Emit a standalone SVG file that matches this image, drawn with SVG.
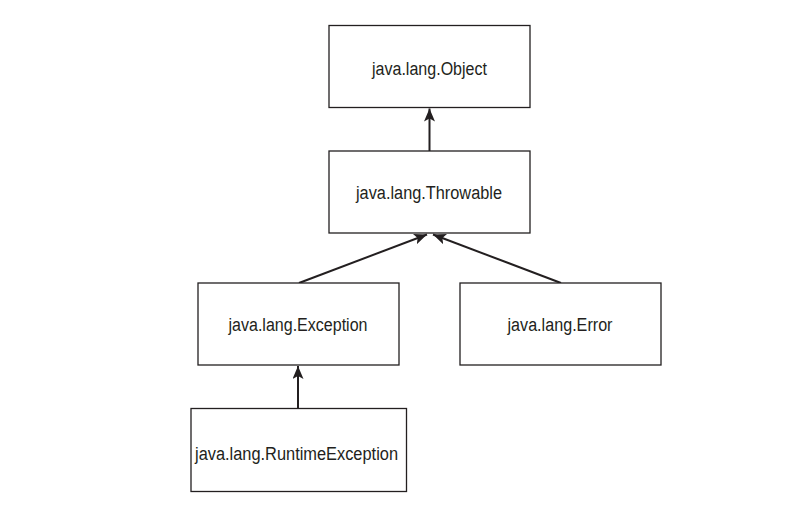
<svg xmlns="http://www.w3.org/2000/svg" width="785" height="506" viewBox="0 0 785 506">
<defs>
<style>
.box{fill:#fff;stroke:#231f20;stroke-width:1.3}
.lbl{font-family:"Liberation Sans",Arial,sans-serif;font-size:18px;fill:#231f20;text-anchor:middle}
.edge{stroke:#231f20;stroke-width:2;fill:none}
</style>
<marker id="ah" markerWidth="14" markerHeight="12" refX="13" refY="5.5" orient="auto" markerUnits="userSpaceOnUse">
<path d="M0,0 L13,5.5 L0,11 L3,5.5 Z" fill="#231f20"/>
</marker>
</defs>
<rect width="785" height="506" fill="#fff"/>
<g id="connectors">
<line class="edge" x1="429.5" y1="151" x2="429.5" y2="108.5" marker-end="url(#ah)"/>
<line class="edge" x1="299" y1="283" x2="427" y2="234.5" marker-end="url(#ah)"/>
<line class="edge" x1="561" y1="283" x2="433" y2="234.5" marker-end="url(#ah)"/>
<line class="edge" x1="298" y1="408" x2="298" y2="366" marker-end="url(#ah)"/>
</g>
<g id="object">
<rect class="box" x="329" y="25.5" width="201" height="82"/>
<text class="lbl" x="429.5" y="74.5" textLength="115" lengthAdjust="spacingAndGlyphs">java.lang.Object</text>
</g>
<g id="throwable">
<rect class="box" x="329" y="151" width="201" height="82"/>
<text class="lbl" x="429" y="199" textLength="146" lengthAdjust="spacingAndGlyphs">java.lang.Throwable</text>
</g>
<g id="exception">
<rect class="box" x="198" y="283" width="201" height="82"/>
<text class="lbl" x="298" y="331" textLength="139" lengthAdjust="spacingAndGlyphs">java.lang.Exception</text>
</g>
<g id="error">
<rect class="box" x="460" y="283" width="201" height="82"/>
<text class="lbl" x="560" y="331" textLength="105" lengthAdjust="spacingAndGlyphs">java.lang.Error</text>
</g>
<g id="runtimeexception">
<rect class="box" x="191" y="408.5" width="215.5" height="83"/>
<text class="lbl" x="296.5" y="459.5" textLength="203" lengthAdjust="spacingAndGlyphs">java.lang.RuntimeException</text>
</g>
</svg>
